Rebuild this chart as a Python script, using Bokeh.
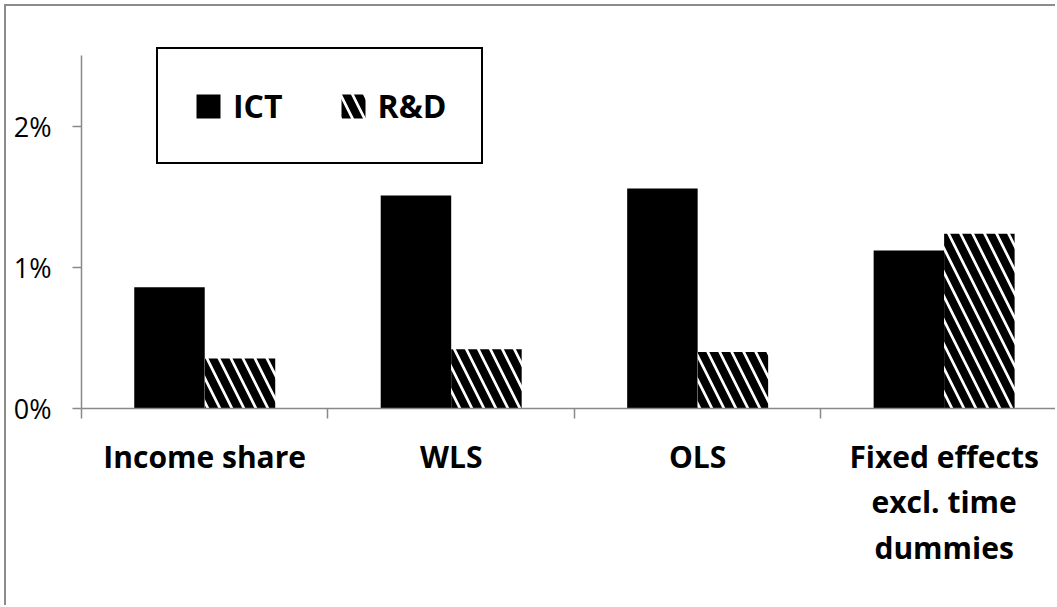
from bokeh.plotting import figure
from bokeh.models import (Range1d, FixedTicker, PrintfTickFormatter, Legend,
                          LegendItem, ColumnDataSource)
from bokeh.transform import dodge
from bokeh.embed import file_html
from bokeh.resources import INLINE

# ---- data ----
categories = ["Income share", "WLS", "OLS", "Fixed effects\nexcl. time\ndummies"]
ict = [0.86, 1.51, 1.56, 1.12]
rnd = [0.355, 0.42, 0.40, 1.24]
y_ticks = [0, 1, 2]
series_names = ["ICT", "R&D"]

FONT = "Open Sans"
AXIS_GREY = "#898989"

pos = [i + 0.5 for i in range(len(categories))]
source = ColumnDataSource(dict(pos=pos, ict=ict, rnd=rnd))

# canvas starts at (6, 6) on the page: frame left 81, top 46, bottom 408
p = figure(width=1051, height=601, output_backend="svg", toolbar_location=None,
           x_range=Range1d(0, 3.96), y_range=Range1d(0, 2.567),
           min_border_left=75, min_border_right=0, min_border_top=40,
           min_border_bottom=199)
p.styles = {"margin-left": "4px", "margin-top": "4px",
            "border-left": "2px solid #8c8c8c", "border-top": "2px solid #8c8c8c"}
p.outline_line_color = None
p.xgrid.visible = False
p.ygrid.visible = False

bar_w = 0.286
r_ict = p.vbar(x=dodge('pos', -bar_w / 2, range=p.x_range), top='ict', width=bar_w,
               source=source, fill_color="black", line_color=None)
r_rnd = p.vbar(x=dodge('pos', bar_w / 2, range=p.x_range), top='rnd', width=bar_w,
               source=source, fill_color="white", line_color=None,
               hatch_pattern="\\", hatch_color="black", hatch_scale=24, hatch_weight=8)

# y axis
ya = p.yaxis[0]
ya.ticker = FixedTicker(ticks=y_ticks, minor_ticks=[])
ya.formatter = PrintfTickFormatter(format="%d%%")
ya.bounds = (0, 2.5)
ya.axis_line_color = AXIS_GREY
ya.axis_line_width = 1.5
ya.major_tick_line_color = AXIS_GREY
ya.major_tick_line_width = 1.5
ya.major_tick_in = 0
ya.major_tick_out = 9
ya.minor_tick_line_color = None
ya.major_label_standoff = 21
ya.major_label_text_font = FONT
ya.major_label_text_font_size = "27px"
ya.major_label_text_color = "black"

# x axis (category boundaries as ticks, labels at centres)
xa = p.xaxis[0]
xa.ticker = FixedTicker(ticks=pos, minor_ticks=list(range(len(categories) + 1)))
xa.major_label_overrides = {pp: c for pp, c in zip(pos, categories)}
xa.axis_line_color = AXIS_GREY
xa.axis_line_width = 1.5
xa.major_tick_line_color = None
xa.major_tick_in = 0
xa.major_tick_out = 10
xa.minor_tick_line_color = AXIS_GREY
xa.minor_tick_line_width = 1.5
xa.minor_tick_in = 0
xa.minor_tick_out = 10
xa.major_label_standoff = 17
xa.major_label_text_font = FONT
xa.major_label_text_font_size = "30px"
xa.major_label_text_font_style = "bold"
xa.major_label_text_color = "black"
xa.major_label_text_line_height = 1.12

legend = Legend(items=[LegendItem(label=series_names[0], renderers=[r_ict]),
                       LegendItem(label=series_names[1], renderers=[r_rnd])],
                location=(75, 244), orientation="horizontal")
legend.border_line_color = "black"
legend.border_line_alpha = 1
legend.border_line_width = 2
legend.background_fill_color = "white"
legend.background_fill_alpha = 1
legend.padding = 35
legend.spacing = 55
legend.margin = 0
legend.label_standoff = 10
legend.glyph_width = 30
legend.glyph_height = 30
legend.label_text_font = FONT
legend.label_text_font_size = "32px"
legend.label_text_font_style = "bold"
legend.label_text_color = "black"
p.add_layout(legend)

open("out.html", "w").write(file_html(p, INLINE))
